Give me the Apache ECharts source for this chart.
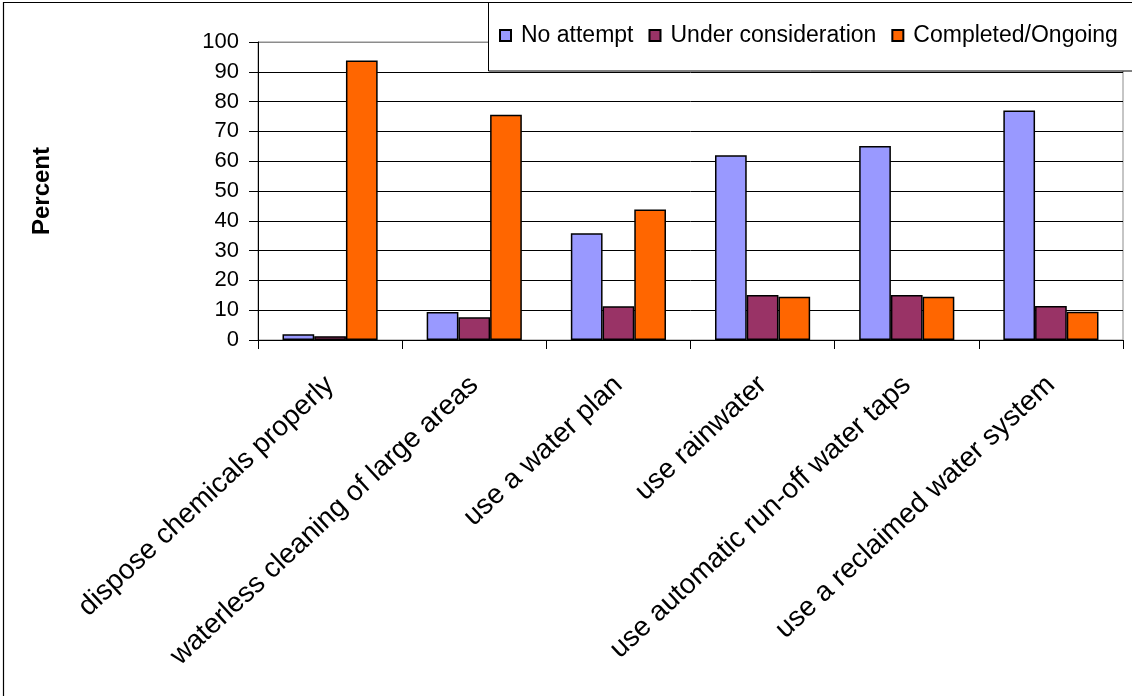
<!DOCTYPE html>
<html>
<head>
<meta charset="utf-8">
<title>Water conservation practices</title>
<script src="https://cdn.jsdelivr.net/npm/echarts@6/dist/echarts.min.js"></script>
<style>
  html, body { margin: 0; padding: 0; background: #fff; }
  #chart { width: 1132px; height: 696px; }
</style>
</head>
<body>
<div id="chart"></div>
<script>
// Practices surveyed
const categories = [
  'dispose chemicals properly',
  'waterless cleaning of large areas',
  'use a water plan',
  'use rainwater',
  'use automatic run-off water taps',
  'use a reclaimed water system'
];

// Percent of respondents per status
const noAttempt = [1.9, 9.4, 35.8, 62.0, 65.1, 77.0];
const underConsideration = [1.3, 7.6, 11.3, 15.1, 15.1, 11.4];
const completedOngoing = [93.8, 75.6, 43.8, 14.5, 14.5, 9.5];

const seriesNames = ['No attempt', 'Under consideration', 'Completed/Ongoing'];
const seriesColors = ['#9999FF', '#993366', '#FF6600'];
const seriesValues = [noAttempt, underConsideration, completedOngoing];

const yTicks = [0, 10, 20, 30, 40, 50, 60, 70, 80, 90, 100];

const FONT = '"Liberation Sans", Arial, sans-serif';

const chart = echarts.init(document.getElementById('chart'), null, { renderer: 'canvas' });

// gridlines are black, the top edge of the plot area is gray
const splitColors = yTicks.map(v => (v === 100 ? '#8c8c8c' : '#000000'));

chart.setOption({
  animation: false,
  backgroundColor: '#ffffff',
  textStyle: { fontFamily: FONT },
  grid: {
    left: 258, right: 9, top: 42, bottom: 356,
    show: true, borderColor: '#8c8c8c', borderWidth: 1, backgroundColor: 'transparent'
  },
  legend: {
    data: seriesNames,
    orient: 'horizontal',
    left: 499, top: 24, width: 800, padding: 0,
    zlevel: 1, z: 10,
    itemWidth: 11, itemHeight: 11, itemGap: 15,
    icon: 'rect',
    textStyle: { fontFamily: FONT, fontSize: 23, color: '#000', padding: [0, 0, 0, 5] }
  },
  xAxis: {
    type: 'category',
    data: categories,
    axisLine: { show: true, lineStyle: { color: '#000', width: 1 } },
    axisTick: { show: true, length: 9, lineStyle: { color: '#000' } },
    axisLabel: {
      rotate: 43, interval: 0, margin: 41,
      fontFamily: FONT, fontSize: 28, color: '#000'
    },
    splitLine: { show: false }
  },
  yAxis: {
    type: 'value',
    min: 0, max: 100, interval: 10,
    name: 'Percent',
    nameLocation: 'middle',
    nameGap: 204,
    nameRotate: 90,
    nameTextStyle: { fontFamily: FONT, fontSize: 24, fontWeight: 'bold', color: '#000' },
    axisLine: { show: true, lineStyle: { color: '#000', width: 1 } },
    axisTick: { show: true, length: 9, lineStyle: { color: '#000' } },
    axisLabel: { margin: 19, fontFamily: FONT, fontSize: 22, color: '#000' },
    splitLine: { show: true, lineStyle: { color: splitColors, width: 1 } }
  },
  series: seriesNames.map((name, i) => ({
    name,
    type: 'bar',
    data: seriesValues[i],
    barGap: '0%',
    barCategoryGap: '34%',
    itemStyle: { color: seriesColors[i], borderColor: '#000', borderWidth: 1.5 }
  })),
  graphic: [
    {
      // outer chart frame
      type: 'rect', silent: true, zlevel: 1, z: 100,
      shape: { x: 3.5, y: 2.5, width: 1200, height: 800 },
      style: { fill: 'none', stroke: '#000', lineWidth: 1.2 }
    },
    {
      // legend frame, sits over the top of the plot area
      type: 'rect', silent: true, zlevel: 1, z: 1,
      shape: { x: 488.5, y: 2.5, width: 700, height: 68.5 },
      style: { fill: '#fff', stroke: '#000', lineWidth: 1 }
    }
  ]
});
</script>
</body>
</html>
